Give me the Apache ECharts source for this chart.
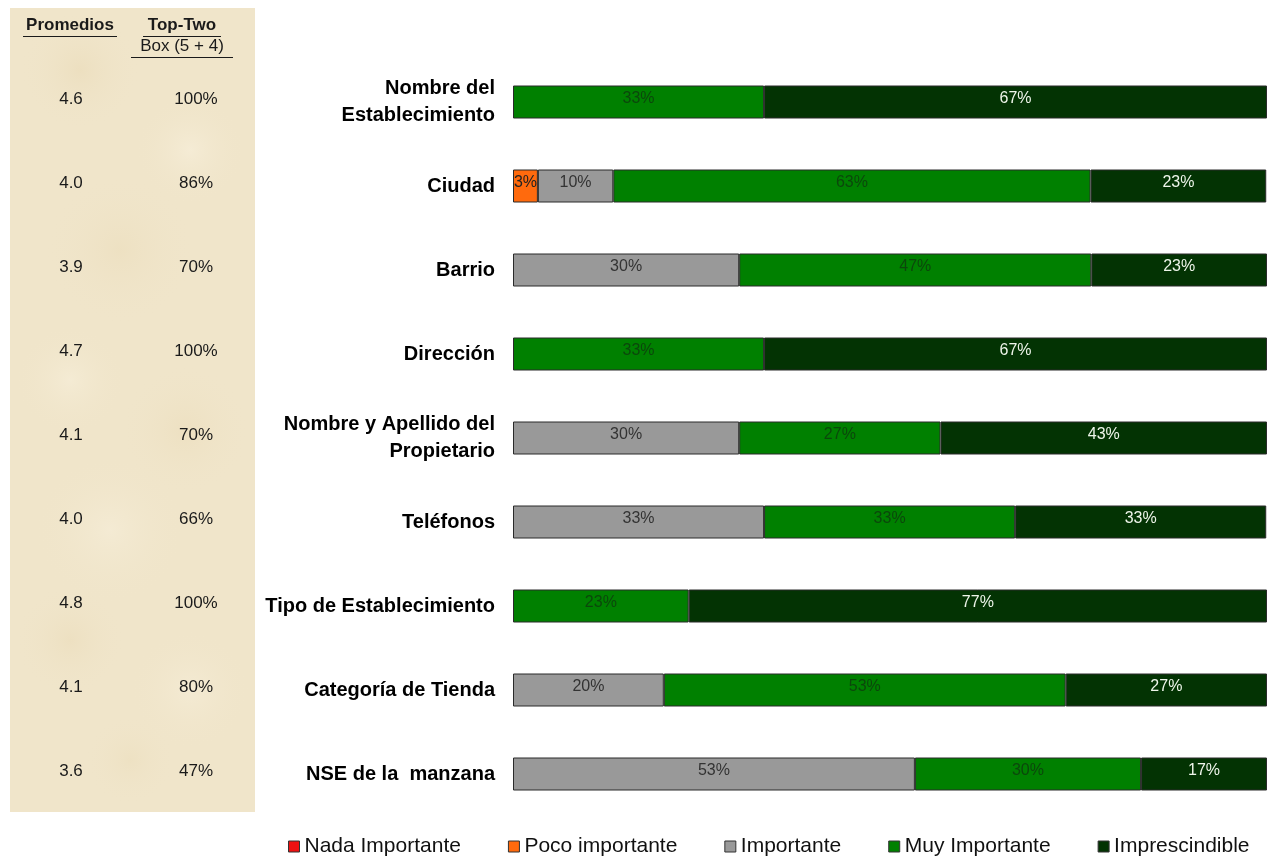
<!DOCTYPE html>
<html>
<head>
<meta charset="utf-8">
<script src="https://cdn.jsdelivr.net/npm/echarts@6/dist/echarts.min.js"></script>
<style>
  html, body { margin: 0; padding: 0; background: #ffffff; }
  #chart { width: 1274px; height: 857px; }
</style>
</head>
<body>
<div id="chart"></div>
<script>
// Attributes evaluated (top to bottom)
const categories = [
  'Nombre del\nEstablecimiento',
  'Ciudad',
  'Barrio',
  'Dirección',
  'Nombre y Apellido del\nPropietario',
  'Teléfonos',
  'Tipo de Establecimiento',
  'Categoría de Tienda',
  'NSE de la  manzana'
];

// Share of answers per importance level (%), one value per attribute
const nadaImportante  = [0, 0, 0, 0, 0, 0, 0, 0, 0];
const pocoImportante  = [0, 3.3, 0, 0, 0, 0, 0, 0, 0];
const importante      = [0, 10, 30, 0, 30, 33.3, 0, 20, 53.3];
const muyImportante   = [33.3, 63.3, 46.7, 33.3, 26.7, 33.3, 23.3, 53.3, 30];
const imprescindible  = [66.7, 23.3, 23.3, 66.7, 43.3, 33.3, 76.7, 26.7, 16.7];

// Side table: mean score and top-two box per attribute
const promedios = ['4.6', '4.0', '3.9', '4.7', '4.1', '4.0', '4.8', '4.1', '3.6'];
const topTwoBox = ['100%', '86%', '70%', '100%', '70%', '66%', '100%', '80%', '47%'];

const seriesDefs = [
  { name: 'Nada Importante',  data: nadaImportante,  color: '#ee1111', label: '#222222' },
  { name: 'Poco importante',  data: pocoImportante,  color: '#ff6a0d', label: '#222222' },
  { name: 'Importante',       data: importante,      color: '#999999', label: '#333333' },
  { name: 'Muy Importante',   data: muyImportante,   color: '#008000', label: '#0b470b' },
  { name: 'Imprescindible',   data: imprescindible,  color: '#033303', label: '#eef5ea' }
];

const chart = echarts.init(document.getElementById('chart'), null, { renderer: 'canvas' });

const font = '"Liberation Sans", Arial, sans-serif';

const option = {
  animation: false,
  backgroundColor: '#ffffff',
  textStyle: { fontFamily: font },
  grid: { left: 513, right: 7, top: 60, bottom: 41, containLabel: false },
  xAxis: {
    type: 'value', min: 0, max: 100, show: false
  },
  yAxis: {
    type: 'category',
    data: categories,
    inverse: true,
    axisLine: { show: false },
    axisTick: { show: false },
    splitLine: { show: false },
    axisLabel: {
      margin: 18,
      color: '#000000',
      fontWeight: 'bold',
      fontSize: 20,
      lineHeight: 27,
      align: 'right',
      fontFamily: font
    }
  },
  legend: {
    left: 283,
    top: 831,
    itemWidth: 11,
    itemHeight: 11,
    itemGap: 47,
    icon: 'rect',
    textStyle: { fontSize: 21, color: '#111111', fontFamily: font },
    data: seriesDefs.map(s => ({ name: s.name, itemStyle: { borderColor: '#333333', borderWidth: 1 } }))
  },
  series: seriesDefs.map(s => ({
    name: s.name,
    type: 'bar',
    stack: 'total',
    barWidth: 33,
    data: s.data.map(v => (v > 0 ? v : null)),
    itemStyle: { color: s.color, borderColor: '#2a2a2a', borderWidth: 1 },
    label: {
      show: true,
      position: 'inside',
      offset: [0, -3],
      color: s.label,
      fontSize: 16,
      fontFamily: font,
      formatter: p => (p.value ? Math.round(p.value) + '%' : '')
    }
  }))
};

chart.setOption(option);

// Textured beige panel holding the summary table
function buildPanel() {
  const px = 10, py = 8, pw = 245, ph = 804;
  const els = [];
  els.push({
    type: 'rect', silent: true, z: -10,
    shape: { x: px, y: py, width: pw, height: ph },
    style: { fill: '#f0e5ca' }
  });
  // soft mottling of the parchment texture (kept inside the panel)
  const blotches = [
    [80, 70, 60, 'rgba(230,212,172,0.35)'], [190, 150, 55, 'rgba(249,241,222,0.55)'],
    [120, 250, 75, 'rgba(231,214,175,0.3)'], [70, 380, 55, 'rgba(248,240,220,0.55)'],
    [185, 430, 65, 'rgba(231,213,173,0.3)'], [110, 530, 75, 'rgba(248,240,221,0.5)'],
    [70, 640, 55, 'rgba(230,212,172,0.3)'], [190, 690, 60, 'rgba(248,240,220,0.5)'],
    [130, 760, 45, 'rgba(232,216,178,0.3)']
  ];
  blotches.forEach(b => {
    els.push({
      type: 'circle', silent: true, z: -9,
      shape: { cx: b[0], cy: b[1], r: b[2] },
      style: {
        fill: {
          type: 'radial', x: 0.5, y: 0.5, r: 0.5,
          colorStops: [{ offset: 0, color: b[3] }, { offset: 1, color: 'rgba(240,229,202,0)' }]
        }
      }
    });
  });

  const headStyle = { fill: '#1a1a1a', font: 'bold 17px ' + font, textAlign: 'center', textVerticalAlign: 'middle' };
  els.push({ type: 'text', z: 5, style: Object.assign({ text: 'Promedios', x: 70, y: 25 }, headStyle) });
  els.push({ type: 'text', z: 5, style: Object.assign({ text: 'Top-Two', x: 182, y: 25 }, headStyle) });
  els.push({ type: 'text', z: 5, style: Object.assign({}, headStyle, { text: 'Box (5 + 4)', x: 182, y: 46, font: '17px ' + font }) });
  const ul = (x1, x2, y) => ({ type: 'line', z: 5, shape: { x1, y1: y, x2, y2: y }, style: { stroke: '#1a1a1a', lineWidth: 1 } });
  els.push(ul(23, 117, 36.5), ul(143, 221, 36.5), ul(131, 233, 57.5));

  categories.forEach((c, i) => {
    const y = chart.convertToPixel({ yAxisIndex: 0 }, i);
    const s = { fill: '#1a1a1a', font: '17px ' + font, textAlign: 'center', textVerticalAlign: 'middle' };
    els.push({ type: 'text', z: 5, style: Object.assign({ text: promedios[i], x: 71, y: y - 3 }, s) });
    els.push({ type: 'text', z: 5, style: Object.assign({ text: topTwoBox[i], x: 196, y: y - 3 }, s) });
  });
  chart.setOption({ graphic: { elements: els } });
}
buildPanel();
</script>
</body>
</html>
